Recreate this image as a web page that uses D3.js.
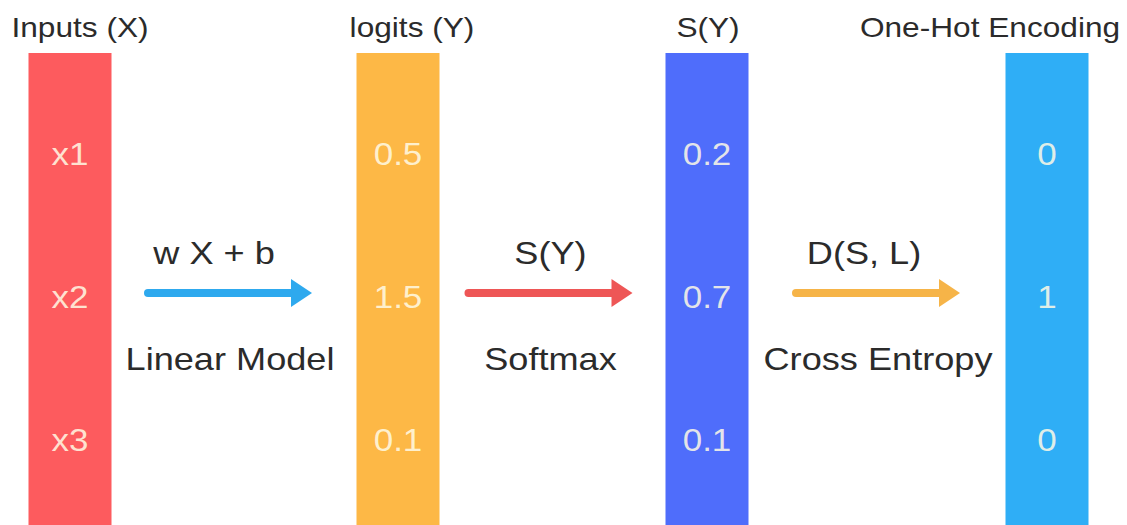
<!DOCTYPE html>
<html><head><meta charset="utf-8">
<script src="https://cdn.jsdelivr.net/npm/d3@7"></script>
<style>html,body{margin:0;padding:0;background:#fff;}svg{display:block;}</style>
</head><body>
<svg id="c" width="1127" height="525"></svg>
<script>
// ---- data ----
const columns = ["Inputs (X)", "logits (Y)", "S(Y)", "One-Hot Encoding"];
const rows = ["r1", "r2", "r3"];
const inputs = ["x1", "x2", "x3"];
const logits = [0.5, 1.5, 0.1];
const softmax = [0.2, 0.7, 0.1];
const oneHot = [0, 1, 0];
const arrowTop = ["w X + b", "S(Y)", "D(S, L)"];
const arrowBottom = ["Linear Model", "Softmax", "Cross Entropy"];

// ---- layout / style ----
const W = 1127, H = 525;
const FONT = "Liberation Sans, Arial, sans-serif";
const SX = 1.13; // horizontal stretch of the original artwork
const colColors = ["#fd5b5e", "#fdb846", "#4f6dfb", "#2faef6"];
const arrowColors = ["#2ea9ee", "#ee5656", "#f6b448"];
const colValues = [inputs, logits.map(String), softmax.map(String), oneHot.map(String)];
const barW = 83;

const svg = d3.select("#c");
const x = d3.scaleOrdinal().domain(columns).range([70, 398, 707, 1047]);
const titleX = d3.scaleOrdinal().domain(columns).range([80, 412, 708, 990]);
const y = d3.scalePoint().domain(rows).range([154, 440]);
const barTop = 53;

function stretchedText(sel) {
  return sel.attr("text-anchor", "middle").attr("font-family", FONT);
}

// bars
svg.selectAll("rect.bar").data(columns).join("rect")
  .attr("class", "bar")
  .attr("x", d => x(d) - barW / 2).attr("y", barTop)
  .attr("width", barW).attr("height", H - barTop)
  .attr("fill", (d, i) => colColors[i]);

// titles
stretchedText(svg.selectAll("text.title").data(columns).join("text"))
  .attr("class", "title")
  .attr("transform", d => `translate(${titleX(d)},37) scale(${SX},1)`)
  .attr("font-size", 28).attr("fill", "#2b2b2b")
  .text(d => d);

// cell values
columns.forEach((c, ci) => {
  stretchedText(svg.selectAll(null).data(colValues[ci]).join("text"))
    .attr("transform", (d, i) => `translate(${x(c)},${y(rows[i])}) scale(${SX},1)`)
    .attr("dy", "0.36em")
    .attr("font-size", 31).attr("fill", "#fffbe6").attr("fill-opacity", 0.85)
    .text(d => d);
});

// arrows between columns
const arrowShift = [-4, -2, 1];
const topShift = [-16, 0, -14];
const botShift = [0, 0, 0];
for (let i = 0; i < 3; i++) {
  const x0 = x(columns[i]) + barW / 2, x1 = x(columns[i + 1]) - barW / 2;
  const mid = (x0 + x1) / 2 + arrowShift[i];
  const len = 164;
  const ay = y(rows[1]) - 4;
  const sx = mid - len / 2, ex = mid + len / 2;
  const headL = 21, headH = 28;
  svg.append("line")
    .attr("x1", sx).attr("x2", ex - headL + 2).attr("y1", ay).attr("y2", ay)
    .attr("stroke", arrowColors[i]).attr("stroke-width", 8).attr("stroke-linecap", "round");
  svg.append("path")
    .attr("d", `M${ex - headL},${ay - headH / 2} L${ex},${ay} L${ex - headL},${ay + headH / 2} Z`)
    .attr("fill", arrowColors[i]);
  stretchedText(svg.append("text"))
    .attr("transform", `translate(${mid + topShift[i]},${ay - 29}) scale(${SX},1)`)
    .attr("font-size", 32).attr("fill", "#2b2b2b")
    .text(arrowTop[i]);
  stretchedText(svg.append("text"))
    .attr("transform", `translate(${mid + botShift[i]},${ay + 77}) scale(${SX},1)`)
    .attr("font-size", 32).attr("fill", "#2b2b2b")
    .text(arrowBottom[i]);
}
</script>
</body></html>
